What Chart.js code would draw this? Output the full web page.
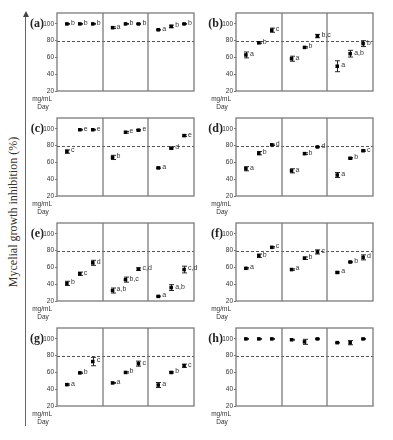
<!DOCTYPE html>
<html>
<head>
<meta charset="utf-8">
<script src="https://cdn.jsdelivr.net/npm/chart.js@4.4.1/dist/chart.umd.min.js"></script>
<style>
  html, body { margin: 0; padding: 0; background: #fff; }
  body { width: 393px; height: 440px; position: relative; overflow: hidden; }
  canvas { position: absolute; }
  #ytitle {
    position: absolute; left: 13px; top: 212px;
    transform: translate(-50%, -50%) rotate(-90deg);
    white-space: nowrap; font: 12px "Liberation Serif", serif; color: #333;
  }
  #axisline { position: absolute; left: 25px; top: 16px; width: 1px; height: 410px; background: #666; }
  #arrow {
    position: absolute; left: 22.5px; top: 11px; width: 0; height: 0;
    border-left: 3px solid transparent; border-right: 3px solid transparent; border-bottom: 6px solid #444;
  }
</style>
</head>
<body>
<div id="ytitle">Mycelial growth inhibition (%)</div>
<div id="axisline"></div>
<div id="arrow"></div>
<script>
// tick labels
const days = ['7', '9', '12'];
const concA = ['1.0', '1.5', '2.0'];
const concBG = ['1.0', '2.0', '3.0'];
const concH = ['2.0', '3.0', '4.0'];

// mean inhibition (%), day 7 / 9 / 12, three concentrations each
const meanA = [100, 100, 100, 95.5, 100, 100, 93, 97, 100];
const errA = [0.5, 0.5, 0.5, 1, 0.5, 0.5, 0.5, 1.5, 0.5];
const letA = ['b', 'b', 'b', 'a', 'b', 'b', 'a', 'b', 'b'];

const meanB = [63, 77.5, 92.5, 58.5, 72, 85.5, 49.5, 64.5, 76.5];
const errB = [3.5, 1, 2.5, 3, 0.8, 2, 6.5, 4, 3.5];
const letB = ['a', 'b', 'c', 'a', 'b', 'b,c', 'a', 'a,b', 'b'];

const meanC = [73, 99, 99, 66, 96, 98.5, 53.5, 77, 92];
const errC = [2, 0.5, 0.5, 2.5, 1, 0.8, 0.8, 1, 1];
const letC = ['c', 'e', 'e', 'b', 'e', 'e', 'a', 'd', 'e'];

const meanD = [52.5, 71, 81, 50, 70.5, 78.5, 45, 65, 74];
const errD = [2.5, 2, 0.8, 2.5, 1, 0.5, 3, 0.8, 0.8];
const letD = ['a', 'b', 'd', 'a', 'b', 'd', 'a', 'b', 'c'];

const meanE = [41, 52.5, 65.5, 32.5, 45.5, 58, 25.5, 36, 57.5];
const errE = [2.5, 2, 3, 3, 3, 1.5, 0.5, 3.5, 4];
const letE = ['b', 'c', 'd', 'a,b', 'b,c', 'c,d', 'a', 'a,b', 'c,d'];

const meanF = [59, 74, 84, 57.5, 71, 78.5, 54, 66.5, 72];
const errF = [0.8, 2, 0.8, 0.8, 1.5, 2.5, 0.8, 0.8, 3];
const letF = ['a', 'b', 'c', 'a', 'b', 'c', 'a', 'b', 'd'];

const meanG = [45.5, 59.5, 73, 47.5, 60, 70.5, 45, 60, 68];
const errG = [0.8, 0.8, 5, 0.5, 0.8, 3, 3, 0.8, 2];
const letG = ['a', 'b', 'c', 'a', 'b', 'c', 'a', 'b', 'c'];

const meanH = [100, 100, 100, 99, 96.5, 100, 95.5, 95.5, 100];
const errH = [0.5, 0.5, 0.5, 0.5, 3, 0.5, 0.5, 2.5, 0.5];
const letH = [];

// layout
const AXIS_W = 39;
const colLeft = [18, 197];
const rowTop = [5, 110, 215, 320];
const slot = [0.65, 1.5, 2.35]; // where each concentration sits inside a 3-unit day block

const panels = [
  { tag: '(a)', conc: concA, mean: meanA, err: errA, letters: letA },
  { tag: '(b)', conc: concBG, mean: meanB, err: errB, letters: letB },
  { tag: '(c)', conc: concBG, mean: meanC, err: errC, letters: letC },
  { tag: '(d)', conc: concBG, mean: meanD, err: errD, letters: letD },
  { tag: '(e)', conc: concBG, mean: meanE, err: errE, letters: letE },
  { tag: '(f)', conc: concBG, mean: meanF, err: errF, letters: letF },
  { tag: '(g)', conc: concBG, mean: meanG, err: errG, letters: letG },
  { tag: '(h)', conc: concH, mean: meanH, err: errH, letters: letH },
];

const xPos = i => Math.floor(i / 3) * 3 + slot[i % 3];
const tickFont = { family: '"Liberation Sans", Arial, sans-serif', size: 7 };

function makeDecor(panel) {
  return {
    id: 'panelDecor',
    beforeDatasetsDraw(chart) {
      const { ctx, chartArea: a, scales: { x, y } } = chart;
      ctx.save();
      // 80% reference line
      const y80 = Math.round(y.getPixelForValue(80)) + 0.5;
      ctx.strokeStyle = '#555';
      ctx.lineWidth = 1;
      ctx.setLineDash([3, 2]);
      ctx.beginPath();
      ctx.moveTo(a.left, y80);
      ctx.lineTo(a.right, y80);
      ctx.stroke();
      ctx.setLineDash([]);

      // day separators + frame
      ctx.strokeStyle = '#7a7a7a';
      ctx.lineWidth = 1.3;
      [3, 6].forEach(v => {
        const px = Math.round(x.getPixelForValue(v));
        ctx.beginPath();
        ctx.moveTo(px, a.top);
        ctx.lineTo(px, a.bottom);
        ctx.stroke();
      });
      ctx.strokeRect(a.left, a.top, a.right - a.left, a.bottom - a.top);

      // error bars
      ctx.strokeStyle = '#111';
      ctx.lineWidth = 0.9;
      panel.mean.forEach((m, i) => {
        const e = panel.err[i];
        const px = Math.round(x.getPixelForValue(xPos(i))) + 0.5;
        const top = y.getPixelForValue(m + e);
        const bot = y.getPixelForValue(m - e);
        ctx.beginPath();
        ctx.moveTo(px, top); ctx.lineTo(px, bot);
        ctx.moveTo(px - 2.5, top); ctx.lineTo(px + 2.5, top);
        ctx.moveTo(px - 2.5, bot); ctx.lineTo(px + 2.5, bot);
        ctx.stroke();
      });
      ctx.restore();
    },
    afterDatasetsDraw(chart) {
      const { ctx, chartArea: a, scales: { x, y, xd } } = chart;
      ctx.save();
      // significance letters
      ctx.fillStyle = '#333';
      ctx.font = '7px "Liberation Sans", Arial, sans-serif';
      ctx.textAlign = 'left';
      ctx.textBaseline = 'middle';
      panel.letters.forEach((t, i) => {
        ctx.fillText(t, x.getPixelForValue(xPos(i)) + 4, y.getPixelForValue(panel.mean[i]) - 1);
      });

      // panel tag
      ctx.fillStyle = '#222';
      ctx.font = 'bold 12px "Liberation Serif", serif';
      ctx.textAlign = 'right';
      ctx.fillText(panel.tag, a.left - 13, y.getPixelForValue(100));

      // row captions
      ctx.fillStyle = '#333';
      ctx.font = '6.5px "Liberation Sans", Arial, sans-serif';
      ctx.textAlign = 'right';
      ctx.fillText('mg/mL', a.left - 5, x.top + 8.5);
      ctx.textAlign = 'center';
      ctx.fillText('Day', a.left - 14, xd.top + 5.5);
      ctx.restore();
    }
  };
}

panels.forEach((panel, n) => {
  const cv = document.createElement('canvas');
  cv.width = 180;
  cv.height = 106;
  cv.style.left = colLeft[n % 2] + 'px';
  cv.style.top = rowTop[Math.floor(n / 2)] + 'px';
  document.body.appendChild(cv);

  new Chart(cv, {
    type: 'scatter',
    data: {
      datasets: [{
        data: panel.mean.map((m, i) => ({ x: xPos(i), y: m })),
        pointStyle: 'rect',
        pointRadius: 2.5,
        backgroundColor: '#000',
        borderWidth: 0,
      }]
    },
    options: {
      responsive: false,
      animation: false,
      devicePixelRatio: 1,
      layout: { padding: { top: 8, right: 3, left: 0, bottom: 0 } },
      plugins: { legend: { display: false }, tooltip: { enabled: false } },
      scales: {
        x: {
          type: 'linear', position: 'bottom', weight: 0,
          min: 0, max: 9,
          grid: { display: false },
          border: { display: false },
          afterBuildTicks: s => { s.ticks = panel.mean.map((m, i) => ({ value: xPos(i) })); },
          afterFit: s => { s.height = 11; },
          ticks: {
            autoSkip: false, maxRotation: 0, padding: 4,
            color: '#333', font: tickFont,
            callback: (v, i) => panel.conc[i % 3],
          },
        },
        xd: {
          type: 'linear', position: 'bottom', weight: 1,
          min: 0, max: 9,
          grid: { display: false },
          border: { display: false },
          afterBuildTicks: s => { s.ticks = days.map((d, k) => ({ value: k * 3 + 1.5 })); },
          afterFit: s => { s.height = 9; },
          ticks: {
            autoSkip: false, maxRotation: 0, padding: 2,
            color: '#333', font: tickFont,
            callback: (v, i) => days[i],
          },
        },
        y: {
          min: 20, max: 113,
          grid: { drawOnChartArea: false, drawTicks: true, tickLength: 2, color: '#777' },
          border: { display: false },
          afterFit: s => { s.width = AXIS_W; },
          ticks: { stepSize: 20, includeBounds: false, padding: 1, color: '#333', font: { family: tickFont.family, size: 6.5 } },
        },
      },
    },
    plugins: [makeDecor(panel)],
  });
});
</script>
</body>
</html>
